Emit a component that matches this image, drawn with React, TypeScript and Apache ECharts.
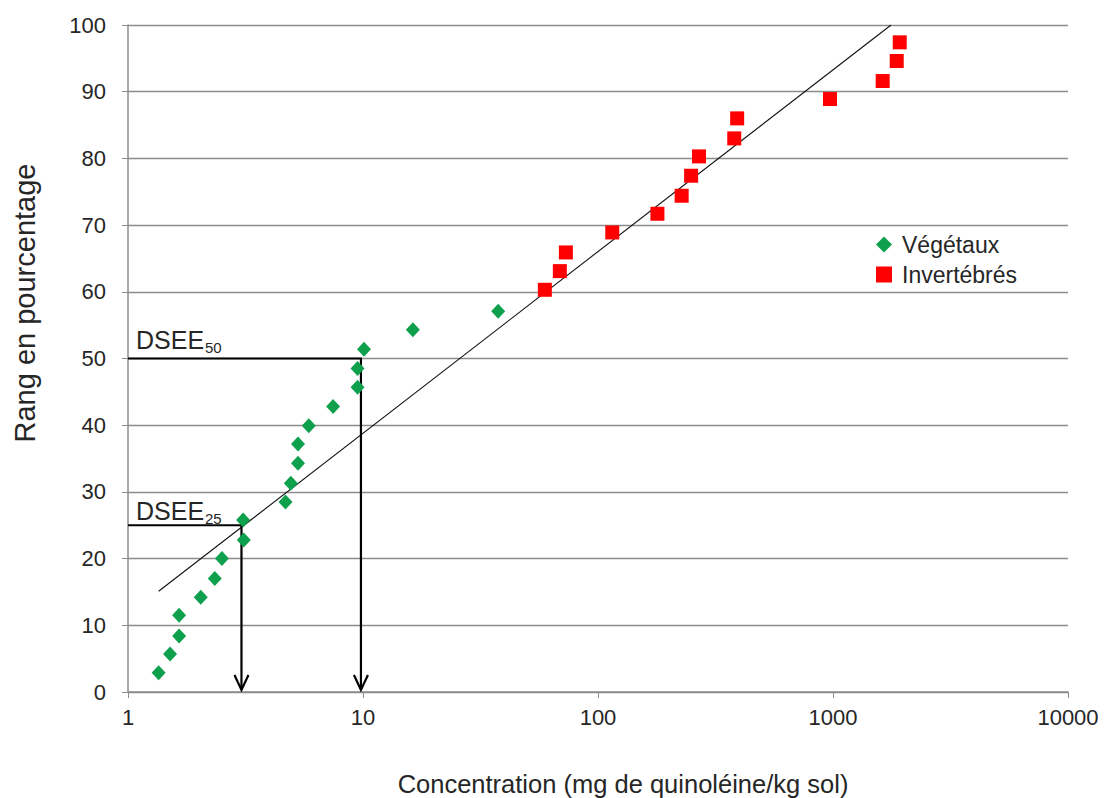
import React, { useEffect, useRef } from "react";
import * as echarts from "echarts";

const vegetaux: [number, number][] = [
  [1.35, 2.9], [1.51, 5.7], [1.65, 8.4], [1.65, 11.5], [2.04, 14.2],
  [2.34, 17.0], [2.51, 20.0], [3.11, 22.8], [3.09, 25.8], [4.68, 28.5],
  [4.93, 31.3], [5.29, 34.3], [5.29, 37.2], [5.88, 39.9], [7.46, 42.8],
  [9.48, 45.7], [9.48, 48.5], [10.1, 51.4], [16.3, 54.3], [37.6, 57.1],
];
const invertebres: [number, number][] = [
  [59.4, 60.3], [68.8, 63.1], [73.0, 65.9], [115, 68.9], [179, 71.7],
  [227, 74.4], [249, 77.4], [269, 80.3], [380, 83.0], [391, 86.0],
  [971, 88.9], [1627, 91.6], [1867, 94.6], [1923, 97.4],
];
const regression: [number, number][] = [[1.35, 15.1], [1766, 100]];
const dsee: [number, number, string][] = [[3.04, 25, "25"], [9.8, 50, "50"]];
const xTicks = [1, 10, 100, 1000, 10000];
const xTitle = "Concentration (mg de quinoléine/kg sol)";
const yTitle = "Rang en pourcentage";

export default function App() {
  const ref = useRef<HTMLDivElement>(null);
  useEffect(() => {
    if (!ref.current) return;
    const chart = echarts.init(ref.current, undefined, { renderer: "svg" });
    const font = "Liberation Sans, Arial, sans-serif";
    const labelLift = [7, 11];
    chart.setOption({
      animation: false,
      textStyle: { fontFamily: font },
      grid: { left: 128, right: 38, top: 25, bottom: 106 },
      graphic: [
        {
          type: "text",
          x: 623,
          y: 784,
          style: {
            text: xTitle,
            fontSize: 25.5,
            fill: "#262626",
            fontFamily: font,
            align: "center",
            verticalAlign: "middle",
          },
        },
        {
          type: "text",
          x: 25,
          y: 303,
          rotation: Math.PI / 2,
          style: {
            text: yTitle,
            fontSize: 29,
            fill: "#262626",
            fontFamily: font,
            align: "center",
            verticalAlign: "middle",
          },
        },
      ],
      legend: {
        orient: "vertical",
        left: 871,
        top: 228,
        itemWidth: 16,
        itemHeight: 16,
        itemGap: 7,
        data: [
          { name: "Végétaux", icon: "diamond" },
          { name: "Invertébrés", icon: "rect" },
        ],
        textStyle: { fontSize: 23, color: "#262626", fontFamily: font, padding: [0, 0, 0, 5] },
      },
      xAxis: {
        type: "log",
        logBase: 10,
        min: 1,
        max: 10000,
        axisLine: { lineStyle: { color: "#8c8c8c", width: 1.5 } },
        axisTick: { show: true, length: 6, lineStyle: { color: "#8c8c8c" } },
        minorTick: { show: false },
        splitLine: { show: false },
        axisLabel: {
          fontSize: 22,
          color: "#262626",
          margin: 14,
          formatter: (v: number) => {
            const t = xTicks.find((k) => Math.abs(k - v) / k < 1e-6);
            return t !== undefined ? String(t) : "";
          },
        },
      },
      yAxis: {
        type: "value",
        min: 0,
        max: 100,
        interval: 10,
        axisLine: { show: true, lineStyle: { color: "#8c8c8c", width: 1.5 } },
        axisTick: { show: true, length: 6, lineStyle: { color: "#8c8c8c" } },
        splitLine: { show: true, lineStyle: { color: "#8c8c8c", width: 1.4 } },
        axisLabel: { fontSize: 22, color: "#262626", margin: 22 },
      },
      series: [
        {
          name: "regression",
          type: "line",
          data: regression,
          symbol: "none",
          lineStyle: { color: "#111", width: 1.1 },
          silent: true,
          z: 2,
        },
        {
          name: "dsee",
          type: "custom",
          data: dsee,
          z: 3,
          silent: true,
          renderItem: (params: any, api: any) => {
            const x = api.value(0);
            const y = api.value(1);
            const p = api.coord([x, y]);
            const left = api.coord([1, y]);
            const bottom = api.coord([x, 0]);
            const label = dsee[params.dataIndex][2];
            const lift = labelLift[params.dataIndex];
            const tipY = bottom[1] - 2;
            const baseA = p[1] - lift;
            const baseS = baseA + 4.4;
            return {
              type: "group",
              children: [
                {
                  type: "polyline",
                  shape: { points: [left, p, [p[0], tipY]] },
                  style: { stroke: "#000", lineWidth: 2.2, fill: "none" },
                },
                {
                  type: "polyline",
                  shape: {
                    points: [
                      [p[0] - 7, tipY - 15],
                      [p[0], tipY],
                      [p[0] + 7, tipY - 15],
                    ],
                  },
                  style: { stroke: "#000", lineWidth: 2.2, fill: "none" },
                },
                {
                  type: "text",
                  x: left[0] + 8,
                  y: baseA + 5,
                  style: {
                    text: "DSEE",
                    fontSize: 25,
                    fill: "#262626",
                    fontFamily: font,
                    align: "left",
                    verticalAlign: "bottom",
                  },
                },
                {
                  type: "text",
                  x: left[0] + 8 + 69,
                  y: baseS + 3,
                  style: {
                    text: label,
                    fontSize: 15,
                    fill: "#262626",
                    fontFamily: font,
                    align: "left",
                    verticalAlign: "bottom",
                  },
                },
              ],
            };
          },
        },
        {
          name: "Végétaux",
          type: "scatter",
          data: vegetaux,
          symbol: "diamond",
          symbolSize: [14, 15],
          itemStyle: { color: "#0fa04e", opacity: 1 },
          z: 4,
        },
        {
          name: "Invertébrés",
          type: "scatter",
          data: invertebres,
          symbol: "rect",
          symbolSize: 14,
          itemStyle: { color: "#ff0000", opacity: 1 },
          z: 4,
        },
      ],
    });
    return () => chart.dispose();
  }, []);
  return <div ref={ref} style={{ width: 1106, height: 798, position: "absolute", left: 0, top: 0 }} />;
}
